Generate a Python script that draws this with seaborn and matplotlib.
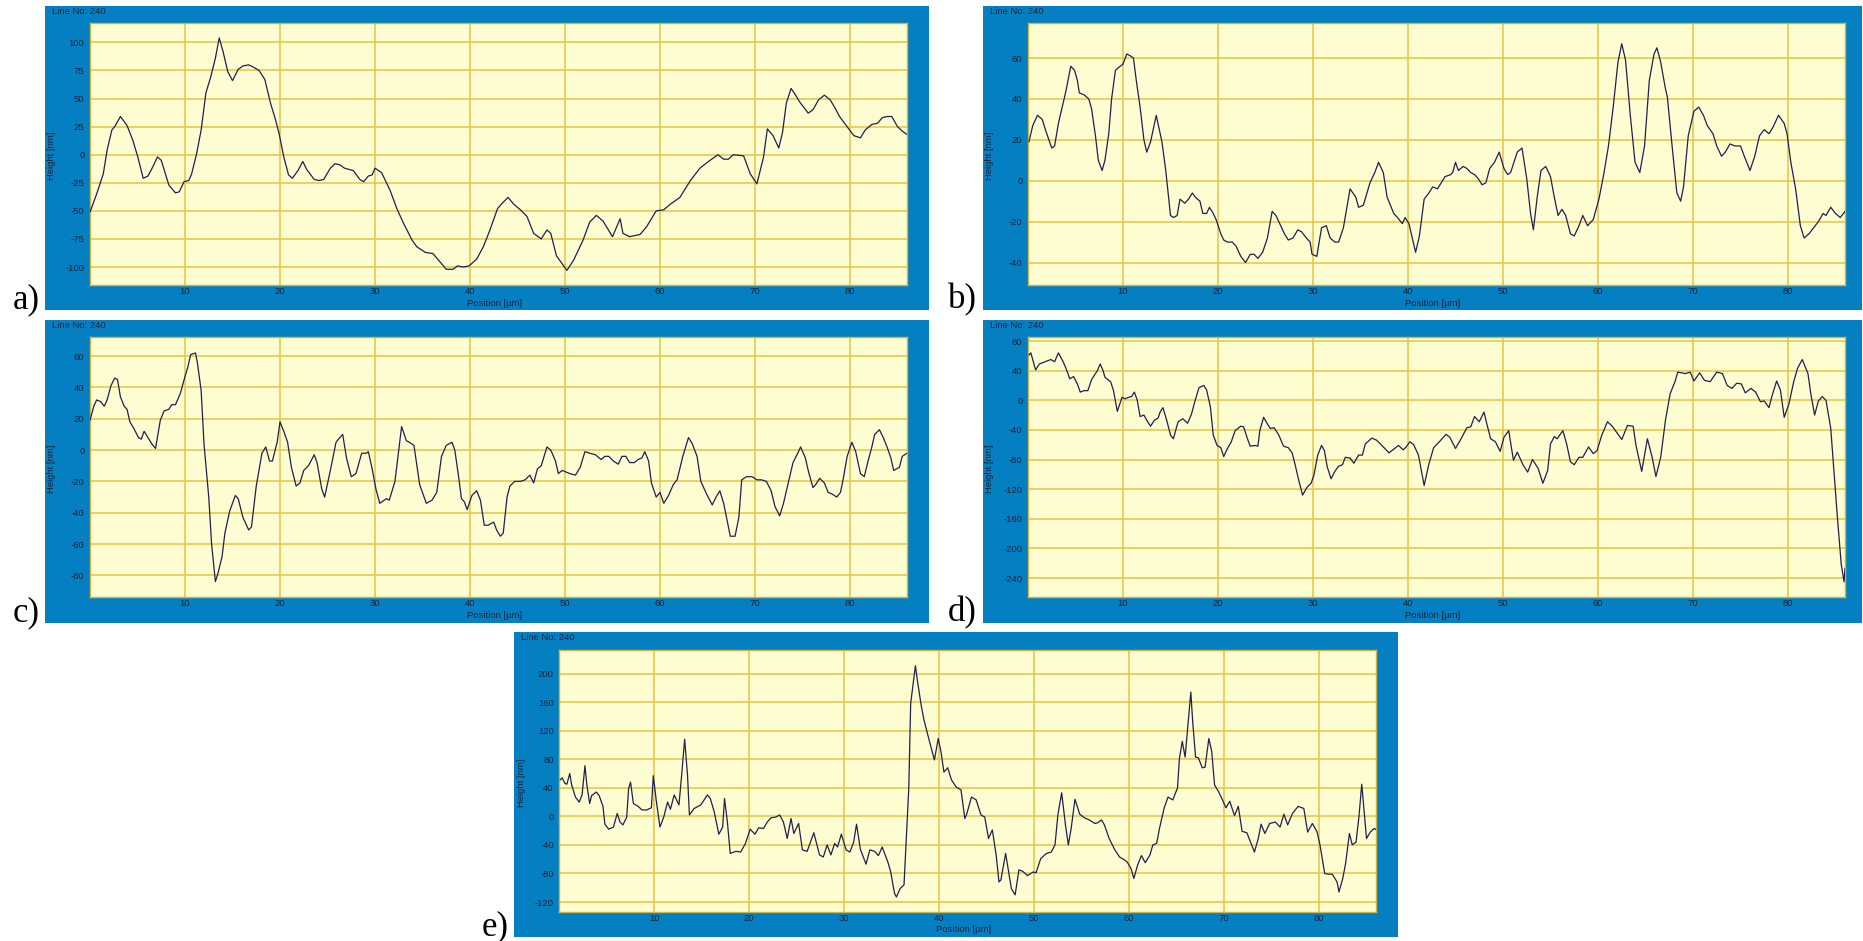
import matplotlib
matplotlib.use("Agg")
import matplotlib.pyplot as plt
from matplotlib.patches import Rectangle
import seaborn as sns

# ---------------------------------------------------------------------------
# Line profiles (position in µm, height in nm), scan line 240
# ---------------------------------------------------------------------------
pos_a = [0.0, 0.7, 1.4, 1.8, 2.3, 2.6, 3.2, 3.9, 4.5, 5.0, 5.6, 6.1, 6.6, 7.1, 7.5, 8.3, 9.0, 9.4,
         9.9, 10.4, 10.7, 11.2, 11.7, 12.2, 12.7, 13.2, 13.6, 14.0, 14.5, 15.0, 15.6, 16.1, 16.7,
         17.2, 17.8, 18.4, 19.0, 19.5, 19.9, 20.4, 20.9, 21.3, 21.9, 22.4, 22.8, 23.6, 24.1, 24.6,
         25.3, 25.8, 26.3, 26.8, 27.2, 27.7, 28.4, 28.8, 29.3, 29.7, 30.0, 30.7, 31.6, 32.3, 33.0,
         33.9, 34.4, 35.3, 36.1, 36.8, 37.5, 38.2, 38.7, 39.3, 39.9, 40.7, 41.4, 42.1, 42.9, 43.3,
         44.0, 44.6, 45.3, 46.0, 46.7, 47.5, 48.1, 48.5, 49.1, 50.2, 50.9, 51.9, 52.6, 53.3, 54.0,
         55.0, 55.8, 56.1, 56.8, 57.9, 58.6, 59.6, 60.4, 61.1, 62.1, 63.2, 64.2, 65.1, 66.1, 66.7,
         67.2, 67.7, 68.8, 69.5, 70.2, 70.9, 71.3, 71.9, 72.5, 72.9, 73.3, 73.8, 74.2, 74.7, 75.6,
         76.1, 76.7, 77.3, 77.9, 78.4, 78.9, 79.7, 80.4, 81.1, 81.6, 82.3, 82.9, 83.4, 83.9, 84.4,
         85.0, 85.5, 86.0]
height_a = [-51, -35, -17, 4, 22, 25, 34, 26, 13, -1, -21, -19, -11, -2, -5, -27, -34, -33,
            -24, -23, -17, 0, 22, 55, 69, 86, 104, 92, 74, 66, 76, 79, 80,
            78, 75, 67, 46, 32, 19, -2, -18, -21, -14, -6, -13, -22, -23, -22,
            -12, -8, -9, -12, -13, -14, -22, -24, -19, -18, -12, -16, -32, -48, -61,
            -76, -82, -87, -88, -95, -102, -102, -99, -100, -99, -93, -82, -67, -48, -44,
            -38, -44, -49, -55, -70, -75, -67, -70, -90, -103, -94, -76, -60, -54, -59,
            -73, -57, -70, -73, -71, -64, -50, -49, -44, -38, -23, -12, -6, 0, -4,
            -4, 0, -1, -17, -26, -2, 23, 17, 6, 20, 46, 59, 54, 47, 37,
            40, 49, 53, 49, 42, 34, 25, 17, 15, 22, 27, 28, 33, 34, 34,
            25, 21, 18]

pos_b = [0.1, 0.5, 1.0, 1.5, 1.9, 2.2, 2.5, 2.8, 3.2, 3.7, 4.0, 4.5, 4.9, 5.2, 5.4, 5.9, 6.4, 6.7,
         7.1, 7.4, 7.8, 8.1, 8.5, 8.8, 9.2, 9.7, 10.0, 10.4, 10.8, 11.1, 11.4, 11.8, 12.2, 12.5,
         12.9, 13.5, 14.1, 14.5, 15.0, 15.3, 15.7, 16.0, 16.5, 16.9, 17.3, 17.6, 18.1, 18.4, 18.8,
         19.1, 19.5, 19.8, 20.3, 20.6, 21.0, 21.5, 21.9, 22.4, 22.9, 23.4, 23.8, 24.2, 24.7, 25.2,
         25.7, 26.1, 26.6, 27.0, 27.4, 27.9, 28.4, 28.8, 29.3, 29.7, 29.9, 30.4, 30.9, 31.4, 31.8,
         32.3, 32.7, 33.2, 33.9, 34.5, 34.8, 35.3, 36.0, 36.5, 36.9, 37.4, 37.8, 38.5, 38.9, 39.4,
         39.7, 40.1, 40.8, 41.2, 41.7, 42.2, 42.6, 43.1, 43.5, 43.9, 44.5, 44.7, 45.0, 45.3, 45.8,
         46.2, 46.6, 47.0, 47.4, 47.8, 48.2, 48.6, 49.1, 49.6, 50.1, 50.5, 50.8, 51.5, 52.0, 52.5,
         52.9, 53.2, 53.6, 54.0, 54.5, 55.0, 55.4, 55.8, 56.2, 56.6, 57.1, 57.5, 58.0, 58.4, 58.9,
         59.5, 60.1, 60.6, 61.1, 61.6, 62.1, 62.5, 62.9, 63.4, 63.9, 64.4, 64.9, 65.4, 65.9, 66.2,
         66.6, 67.1, 67.3, 67.8, 68.3, 68.7, 69.0, 69.5, 70.1, 70.6, 71.1, 71.5, 72.1, 72.5, 73.0,
         73.4, 73.9, 74.4, 75.0, 75.4, 76.0, 76.5, 77.0, 77.5, 78.0, 78.4, 79.0, 79.6, 79.9, 80.3,
         80.8, 81.3, 81.7, 82.2, 82.7, 83.2, 83.7, 84.0, 84.5, 85.0, 85.5, 86.0]
height_b = [19, 27, 32, 30, 24, 20, 16, 17, 28, 38, 44, 56, 54, 49, 43, 42, 40, 35,
            22, 10, 5, 10, 23, 40, 54, 56, 57, 62, 61, 60, 49, 36, 20, 14,
            19, 32, 19, 5, -17, -18, -17, -9, -11, -9, -6, -8, -10, -16, -16,
            -13, -16, -19, -26, -29, -30, -30, -32, -37, -40, -36, -36, -38, -35, -28,
            -15, -17, -22, -26, -29, -28, -24, -25, -28, -30, -36, -37, -23, -22, -28,
            -30, -30, -23, -4, -8, -13, -12, -1, 4, 9, 4, -8, -16, -18, -21,
            -18, -21, -35, -27, -9, -6, -3, -4, -1, 2, 3, 4, 9, 5, 7,
            6, 4, 3, 1, -2, -1, 6, 9, 14, 6, 3, 4, 14, 16, 1,
            -16, -24, -8, 5, 7, 2, -8, -17, -14, -17, -26, -27, -22, -17, -22,
            -19, -9, 3, 17, 36, 58, 67, 59, 32, 9, 4, 17, 49, 62, 65,
            58, 45, 41, 17, -6, -10, -3, 22, 34, 36, 32, 27, 23, 17, 12,
            14, 18, 17, 17, 12, 5, 12, 22, 25, 23, 26, 32, 28, 23, 9,
            -4, -22, -28, -26, -23, -20, -16, -17, -13, -16, -18, -15]

pos_c = [0.0, 0.4, 0.7, 1.1, 1.5, 1.8, 2.2, 2.6, 2.9, 3.2, 3.6, 3.9, 4.2, 4.6, 5.1, 5.4, 5.7, 6.1,
         6.5, 6.9, 7.4, 7.8, 8.3, 8.6, 9.0, 9.5, 10.0, 10.3, 10.6, 11.1, 11.3, 11.7, 12.0, 12.5,
         12.8, 13.2, 13.5, 13.9, 14.2, 14.7, 15.3, 15.6, 16.1, 16.7, 17.0, 17.5, 18.1, 18.5, 18.9,
         19.2, 19.7, 20.0, 20.4, 20.8, 21.2, 21.7, 22.1, 22.5, 23.0, 23.6, 23.9, 24.4, 24.7, 25.3,
         25.9, 26.3, 26.6, 27.0, 27.5, 28.0, 28.6, 29.1, 29.3, 29.7, 30.1, 30.5, 31.2, 31.5, 32.1,
         32.5, 32.8, 33.3, 33.6, 34.1, 34.7, 35.4, 36.0, 36.5, 37.0, 37.5, 38.1, 38.4, 38.8, 39.1,
         39.4, 39.7, 40.2, 40.7, 41.1, 41.5, 41.9, 42.5, 42.8, 43.2, 43.5, 43.9, 44.2, 44.7, 45.3,
         45.8, 46.3, 46.7, 47.1, 47.5, 48.1, 48.5, 49.0, 49.3, 49.7, 50.1, 50.5, 51.1, 51.6, 52.1,
         52.6, 53.2, 53.8, 54.2, 54.6, 55.1, 55.6, 56.0, 56.4, 56.8, 57.3, 57.7, 58.1, 58.4, 58.8,
         59.1, 59.6, 60.0, 60.4, 60.9, 61.4, 61.8, 62.4, 63.0, 63.4, 63.9, 64.3, 64.9, 65.5, 65.9,
         66.3, 66.7, 67.0, 67.4, 67.9, 68.3, 68.6, 69.1, 69.7, 70.2, 70.7, 71.2, 71.7, 72.1, 72.6,
         73.0, 73.5, 74.0, 74.5, 74.8, 75.3, 75.6, 76.1, 76.4, 76.8, 77.3, 77.7, 78.1, 78.6, 79.0,
         79.3, 79.7, 80.2, 80.6, 81.1, 81.5, 81.9, 82.3, 82.6, 83.1, 83.5, 83.9, 84.3, 84.6, 85.2,
         85.5, 86.0]
height_c = [19, 28, 32, 31, 28, 32, 41, 46, 45, 34, 28, 26, 18, 14, 8, 7, 12, 8,
            4, 1, 19, 25, 26, 29, 29, 36, 47, 53, 61, 62, 56, 38, 4, -30,
            -60, -84, -78, -68, -53, -39, -29, -31, -43, -51, -49, -23, -2, 2, -7,
            -7, 5, 18, 12, 5, -11, -23, -21, -13, -10, -3, -8, -25, -30, -13,
            5, 8, 10, -5, -17, -15, -2, -2, -1, -12, -25, -34, -31, -32, -20,
            0, 15, 6, 5, 3, -22, -34, -32, -27, -4, 3, 5, 0, -17, -31,
            -33, -38, -29, -26, -32, -48, -48, -46, -51, -55, -53, -30, -23, -20, -20,
            -19, -16, -21, -12, -10, 2, 0, -7, -15, -13, -14, -15, -16, -11, -1,
            -2, -3, -6, -4, -4, -7, -9, -4, -4, -8, -8, -6, -5, -1, -7,
            -21, -30, -27, -34, -29, -22, -19, -4, 8, 4, -4, -20, -28, -35, -30,
            -26, -34, -43, -55, -55, -43, -19, -17, -17, -19, -19, -20, -26, -36, -42,
            -34, -21, -8, -2, 2, -5, -13, -24, -22, -18, -21, -27, -28, -30, -27,
            -18, -4, 5, -1, -15, -17, -7, 2, 10, 13, 8, 2, -5, -13, -11,
            -4, -2]

pos_d = [0.1, 0.3, 0.8, 1.2, 1.8, 2.4, 2.8, 3.2, 3.7, 4.0, 4.4, 4.8, 5.2, 5.5, 5.9, 6.3, 6.7, 7.3,
         7.6, 7.9, 8.1, 8.7, 9.0, 9.4, 9.9, 10.2, 10.6, 10.9, 11.2, 11.5, 11.8, 12.2, 12.5, 12.9,
         13.3, 13.7, 13.9, 14.2, 14.6, 15.0, 15.3, 15.8, 16.3, 16.8, 17.2, 17.6, 18.0, 18.5, 18.8,
         19.2, 19.5, 19.9, 20.3, 20.6, 21.0, 21.4, 21.8, 22.4, 22.7, 23.1, 23.4, 23.9, 24.2, 24.4,
         24.8, 25.2, 25.5, 25.9, 26.4, 26.9, 27.4, 27.8, 28.1, 28.5, 28.9, 29.4, 29.8, 30.1, 30.5,
         30.9, 31.2, 31.5, 31.9, 32.3, 32.7, 33.1, 33.4, 33.9, 34.3, 34.8, 35.2, 35.5, 36.2, 36.7,
         37.4, 38.0, 38.6, 39.0, 39.5, 39.8, 40.2, 40.6, 41.1, 41.7, 42.2, 42.7, 43.3, 44.0, 44.4,
         45.0, 45.5, 46.2, 46.6, 47.0, 47.5, 48.0, 48.3, 48.7, 49.2, 49.7, 50.1, 50.6, 51.1, 51.5,
         52.1, 52.6, 53.1, 53.7, 54.2, 54.7, 55.0, 55.4, 55.7, 56.3, 56.7, 57.1, 57.5, 58.0, 58.4,
         59.0, 59.5, 59.9, 60.4, 61.0, 61.5, 62.0, 62.5, 63.1, 63.7, 64.0, 64.6, 65.2, 65.7, 66.1,
         66.6, 67.1, 67.6, 68.1, 68.4, 68.8, 69.2, 69.7, 70.1, 70.7, 71.2, 71.8, 72.5, 73.1, 73.6,
         74.1, 74.6, 75.1, 75.5, 76.1, 76.6, 77.1, 77.5, 78.0, 78.3, 78.8, 79.2, 79.6, 80.1, 80.6,
         81.0, 81.5, 82.1, 82.4, 82.8, 83.2, 83.6, 84.0, 84.5, 84.8, 85.2, 85.6, 85.9, 86.0]
height_d = [61, 64, 41, 49, 52, 55, 52, 64, 52, 43, 29, 32, 22, 11, 13, 13, 28, 40,
            49, 40, 31, 25, 13, -15, 4, 2, 4, 5, 11, 0, -22, -20, -27, -35,
            -27, -24, -16, -10, -27, -47, -52, -29, -25, -31, -19, 0, 17, 20, 14,
            -9, -47, -61, -64, -76, -65, -56, -41, -35, -36, -52, -62, -61, -62, -41,
            -23, -32, -38, -37, -47, -62, -64, -71, -86, -108, -128, -117, -112, -101, -74,
            -61, -68, -90, -106, -96, -89, -87, -77, -78, -85, -74, -74, -59, -51, -54,
            -63, -71, -65, -61, -67, -63, -56, -60, -74, -115, -86, -64, -56, -46, -50,
            -65, -54, -37, -36, -22, -29, -16, -32, -52, -56, -69, -50, -41, -81, -70,
            -87, -97, -80, -92, -112, -95, -59, -49, -52, -41, -59, -83, -87, -77, -77,
            -63, -72, -68, -47, -29, -35, -44, -53, -34, -35, -61, -96, -52, -77, -103,
            -77, -27, 9, 25, 38, 37, 36, 38, 26, 37, 27, 25, 38, 36, 20,
            16, 23, 22, 10, 16, 11, -2, -1, -10, 5, 26, 14, -23, -5, 25,
            43, 55, 36, 9, -20, -1, 5, 0, -38, -90, -158, -221, -245, -227]

pos_e = [0.1, 0.3, 0.6, 0.8, 1.1, 1.3, 1.7, 2.1, 2.4, 2.7, 2.9, 3.2, 3.4, 3.9, 4.2, 4.6, 4.8, 5.2,
         5.7, 6.1, 6.4, 6.7, 7.1, 7.3, 7.5, 7.8, 8.3, 8.7, 9.2, 9.7, 9.9, 10.2, 10.6, 11.0, 11.4,
         11.7, 12.1, 12.6, 12.9, 13.2, 13.5, 13.7, 14.2, 14.9, 15.6, 15.9, 16.3, 16.8, 17.2, 17.4,
         17.7, 18.0, 18.6, 19.1, 19.6, 20.1, 20.6, 21.0, 21.5, 21.9, 22.3, 22.8, 23.2, 23.6, 24.0,
         24.4, 24.7, 25.2, 25.6, 26.1, 26.8, 27.4, 27.8, 28.2, 28.6, 29.0, 29.3, 29.7, 30.2, 30.6,
         31.0, 31.3, 31.7, 32.3, 32.7, 33.2, 33.6, 34.0, 34.6, 34.9, 35.3, 35.5, 35.9, 36.3, 36.5,
         36.8, 37.0, 37.5, 37.7, 38.1, 38.4, 39.0, 39.5, 39.9, 40.2, 40.5, 40.9, 41.3, 41.8, 42.3,
         42.7, 42.9, 43.4, 43.9, 44.4, 44.8, 45.2, 45.6, 46.0, 46.3, 46.5, 47.0, 47.6, 48.0, 48.4,
         48.8, 49.3, 49.9, 50.2, 50.7, 51.3, 51.8, 52.2, 52.5, 52.9, 53.3, 53.6, 53.9, 54.3, 54.8,
         55.3, 55.8, 56.4, 56.7, 57.1, 57.4, 57.9, 58.5, 59.0, 59.5, 59.8, 60.2, 60.5, 60.9, 61.3,
         61.7, 62.2, 62.5, 62.9, 63.2, 63.7, 64.1, 64.6, 65.1, 65.3, 65.6, 65.9, 66.2, 66.5, 66.7,
         67.0, 67.3, 67.7, 68.0, 68.4, 68.7, 69.0, 69.4, 69.8, 70.2, 70.6, 71.1, 71.5, 71.9, 72.4,
         72.7, 73.2, 73.6, 73.9, 74.3, 74.8, 75.4, 75.9, 76.3, 76.7, 77.2, 77.8, 78.4, 78.8, 79.3,
         79.8, 80.1, 80.6, 81.0, 81.4, 81.9, 82.1, 82.5, 82.8, 83.2, 83.5, 83.9, 84.2, 84.5, 84.8,
         85.0, 85.4, 85.8, 86.1]
height_e = [51, 54, 46, 45, 60, 44, 27, 20, 30, 71, 44, 18, 29, 34, 29, 14, -11, -18,
            -15, 4, -8, -12, -1, 39, 48, 18, 14, 9, 9, 12, 57, 23, -15, -1, 20,
            10, 30, 16, 60, 108, 58, 2, 11, 16, 30, 25, 7, -25, -15, 25,
            -8, -52, -49, -50, -38, -18, -25, -16, -17, -8, -2, -1, 2, -8, -31,
            -3, -24, -10, -47, -49, -23, -54, -57, -40, -54, -38, -43, -25, -47, -50,
            -36, -11, -46, -67, -47, -49, -55, -43, -64, -78, -108, -113, -101, -96, -43,
            39, 158, 211, 191, 156, 135, 104, 79, 109, 90, 62, 68, 51, 41, 37,
            -3, 3, 27, 23, 2, -1, -31, -19, -54, -92, -89, -52, -101, -110, -75,
            -77, -83, -78, -79, -59, -52, -50, -40, 2, 33, -12, -40, -17, 24, 3,
            -2, -5, -10, -9, -5, -12, -31, -47, -57, -61, -64, -73, -87, -68, -55,
            -65, -54, -40, -38, -17, 12, 27, 23, 40, 81, 105, 83, 128, 174, 132,
            83, 82, 68, 69, 109, 91, 44, 35, 24, 12, 21, 1, 14, -21, -23,
            -33, -50, -31, -11, -24, -10, -8, -15, 3, -12, 4, 14, 11, -22, -10,
            -22, -40, -80, -81, -81, -92, -106, -87, -66, -24, -40, -36, -1, 45, -1,
            -31, -22, -17, -19]

labels = ["a)", "b)", "c)", "d)", "e)"]
y_ticks = [
    [-100, -75, -50, -25, 0, 25, 50, 75, 100],
    [-40, -20, 0, 20, 40, 60],
    [-80, -60, -40, -20, 0, 20, 40, 60],
    [-240, -200, -160, -120, -80, -40, 0, 40, 80],
    [-120, -80, -40, 0, 40, 80, 120, 160, 200],
]
y_limits = [(-116, 117), (-51, 77), (-94, 72), (-266, 85), (-134, 233)]
x_ticks = [10, 20, 30, 40, 50, 60, 70, 80]
profiles = [(pos_a, height_a), (pos_b, height_b), (pos_c, height_c),
            (pos_d, height_d), (pos_e, height_e)]

# ---------------------------------------------------------------------------
# Styling
# ---------------------------------------------------------------------------
sns.set_style("white")
plt.rcParams["font.family"] = ["Liberation Sans", "DejaVu Sans"]
plt.rcParams["axes.unicode_minus"] = False

FRAME_BLUE = "#0480C2"
PLOT_BG = "#FEFDD2"
GRID = "#E4C640"
BORDER = "#CDB445"
TRACE = "#1E2050"
TEXT = "#16243A"

W, H = 1863, 941
fig = plt.figure(figsize=(W / 100, H / 100), dpi=100)
fig.patch.set_facecolor("white")

# window frame (left, top, right, bottom) and plot area, in pixels
frames = [(45, 6, 929, 310), (983, 6, 1862, 310), (45, 320, 929, 623),
          (983, 320, 1862, 623), (514, 632, 1398, 937)]
plots = [(90, 23.3, 907, 285), (1028, 23.3, 1845, 285), (90, 337.3, 907, 597.3),
         (1028, 337.3, 1845, 597.3), (559.3, 650, 1376, 912)]
label_pos = [(13, 308), (948, 308), (13, 621), (948, 621), (482, 935)]


def fx(px):
    return px / W


def fy(py):
    return 1 - py / H


for i in range(5):
    fl, ft, fr, fb = frames[i]
    pl, pt, pr, pb = plots[i]
    fig.patches.append(Rectangle((fx(fl), fy(fb)), (fr - fl) / W, (fb - ft) / H,
                                 transform=fig.transFigure, facecolor=FRAME_BLUE,
                                 edgecolor="none", zorder=-5))
    ax = fig.add_axes([fx(pl), fy(pb), (pr - pl) / W, (pb - pt) / H])
    ax.set_zorder(2)
    ax.set_facecolor(PLOT_BG)
    xs, ys = profiles[i]
    sns.lineplot(x=xs, y=ys, ax=ax, color=TRACE, linewidth=0.9,
                 estimator=None, sort=False, zorder=3)
    ax.set_xlim(0, 86)
    ax.set_ylim(*y_limits[i])
    ax.set_xticks(x_ticks)
    ax.set_yticks(y_ticks[i])
    ax.set_xticklabels([str(t) for t in x_ticks])
    ax.set_yticklabels([str(t) for t in y_ticks[i]])
    ax.grid(True, color=GRID, linewidth=1.1, zorder=1)
    ax.set_axisbelow(True)
    ax.tick_params(axis="both", length=0, labelsize=6.8, colors=TEXT)
    ax.tick_params(axis="x", pad=1.5)
    ax.tick_params(axis="y", pad=4)
    ax.set_xlabel("")
    ax.set_ylabel("")
    for sp in ax.spines.values():
        sp.set_color(BORDER)
        sp.set_linewidth(1.0)

    fig.text(fx(fl + 7), fy(ft + 5.5), "Line No: 240", fontsize=6.8, color=TEXT,
             ha="left", va="center", zorder=4)
    fig.text(fx(fl + 7), fy((pt + pb) / 2 + 2), "Height [nm]", fontsize=6.8,
             color=TEXT, rotation=90, ha="center", va="center", zorder=4)
    fig.text(fx((pl + pr) / 2 - 4), fy(fb - 7), "Position [µm]", fontsize=6.8,
             color=TEXT, ha="center", va="center", zorder=4)
    lx, ly = label_pos[i]
    fig.text(fx(lx), fy(ly), labels[i], fontsize=25, family="Liberation Serif",
             color="black", ha="left", va="baseline", zorder=4)

fig.savefig("out.png", dpi=100, facecolor="white")
